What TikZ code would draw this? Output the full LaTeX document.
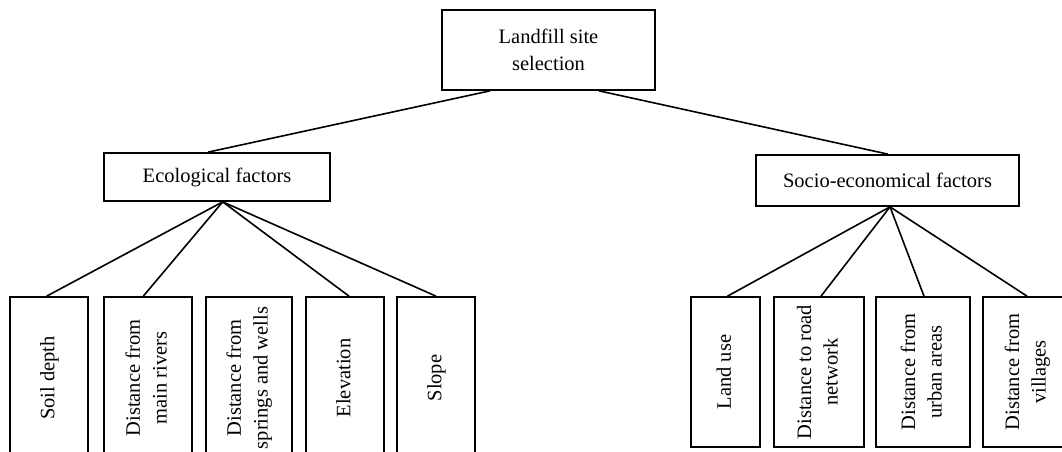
\documentclass[tikz,border=0pt]{standalone}
\usepackage{fontspec}
\usepackage{graphicx}
\setmainfont{Liberation Serif}
\tikzset{
  box/.style={draw, line width=1.7pt, rectangle, inner sep=0pt, align=center,
    font=\fontsize{20.5}{26.7}\selectfont},
  leaf/.style={box, minimum height=162pt},
  rleaf/.style={box, minimum height=150pt},
  conn/.style={line width=1.6pt}
}
\newcommand{\vtext}[1]{\rotatebox{90}{\begin{tabular}{@{}c@{}}#1\end{tabular}}}
\begin{document}
\begin{tikzpicture}[x=1pt,y=-1pt]
\useasboundingbox (0,0) rectangle (1062,452);
\clip (0,0) rectangle (1062,452);
\fill[white] (0,0) rectangle (1062,452);
% top
\node[box, minimum width=213pt, minimum height=80pt] (top) at (548.5,50) {Landfill site\\selection};
% level 2
\node[box, minimum width=226pt, minimum height=48pt] (eco) at (217,177) {Ecological factors};
\node[box, minimum width=263pt, minimum height=51pt] (soc) at (887.5,180.5) {Socio-economical factors};
% ecological leaves
\node[leaf, minimum width=78pt] (soil) at (49,378) {\vtext{Soil depth}};
\node[leaf, minimum width=88pt] (riv) at (148,378) {\vtext{Distance from\\main rivers}};
\node[leaf, minimum width=86pt] (spr) at (249,378) {\vtext{Distance from\\springs and wells}};
\node[leaf, minimum width=78pt] (ele) at (345,378) {\vtext{Elevation}};
\node[leaf, minimum width=78pt] (slo) at (436,378) {\vtext{Slope}};
% socio leaves
\node[rleaf, minimum width=69pt] (land) at (725.5,372) {\vtext{Land use}};
\node[rleaf, minimum width=90pt] (road) at (819,372) {\vtext{Distance to road\\network}};
\node[rleaf, minimum width=94pt] (urb) at (923,372) {\vtext{Distance from\\urban areas}};
\node[rleaf, minimum width=88pt] (vil) at (1027,372) {\vtext{Distance from\\villages}};
% connectors
\draw[conn] ([xshift=-58.5pt]top.south) -- ([xshift=-9pt]eco.north);
\draw[conn] ([xshift=50.5pt]top.south) -- ([xshift=0.5pt]soc.north);
\draw[conn] ([xshift=5.7pt]eco.south) -- ([xshift=-2.3pt]soil.north);
\draw[conn] ([xshift=5.7pt]eco.south) -- ([xshift=-4.7pt]riv.north);
\draw[conn] ([xshift=5.7pt]eco.south) -- ([xshift=4pt]ele.north);
\draw[conn] ([xshift=5.7pt]eco.south) -- (slo.north);
\draw[conn] ([xshift=2.5pt]soc.south) -- ([xshift=2pt]land.north);
\draw[conn] ([xshift=2.5pt]soc.south) -- ([xshift=2pt]road.north);
\draw[conn] ([xshift=2.5pt]soc.south) -- ([xshift=1pt]urb.north);
\draw[conn] ([xshift=2.5pt]soc.south) -- (vil.north);
\end{tikzpicture}
\end{document}
